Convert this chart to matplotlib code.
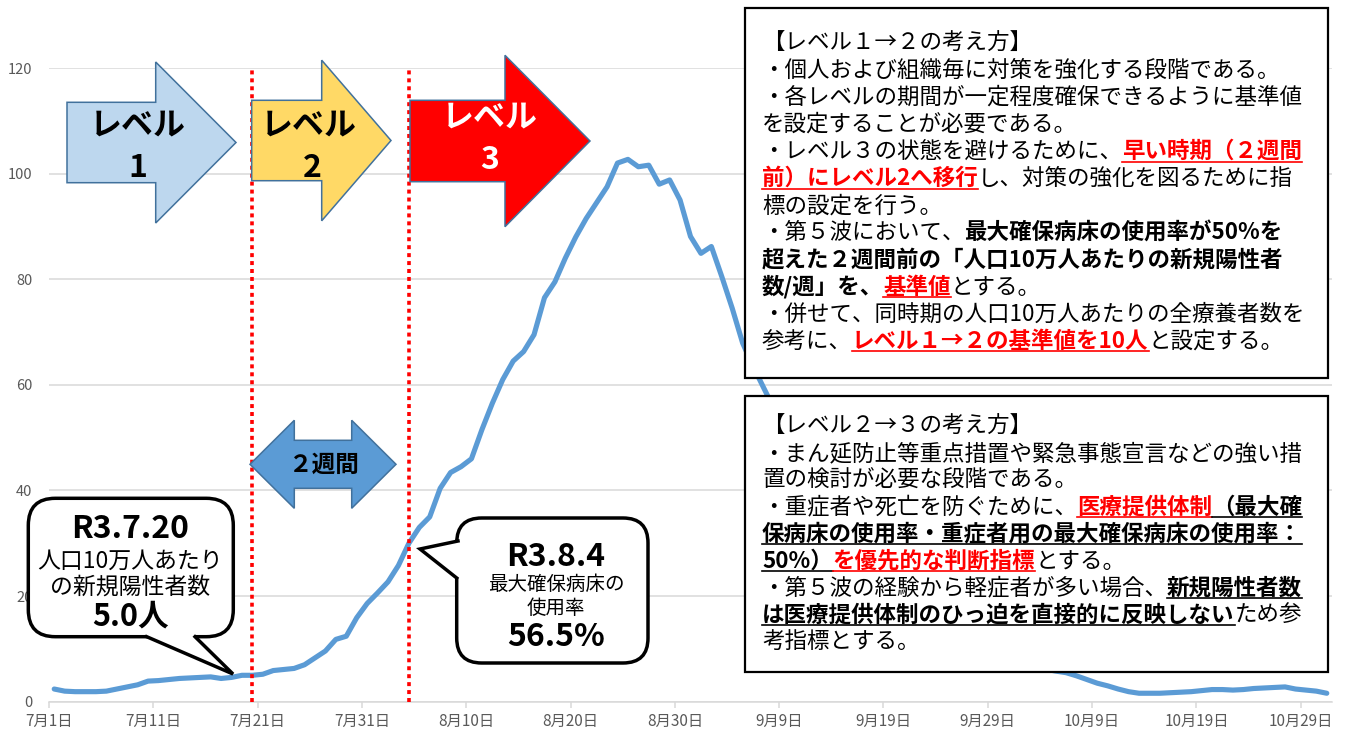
import numpy as np
import pandas as pd
import matplotlib
matplotlib.use("Agg")
import matplotlib.pyplot as plt
from matplotlib.patches import Polygon, FancyBboxPatch, Rectangle
from matplotlib.lines import Line2D
from matplotlib.transforms import Affine2D

plt.rcParams['font.family'] = ['Noto Sans CJK JP', 'DejaVu Sans']

# New positives per 100k people (weekly), 7/1 - 10/31
dates = pd.date_range('2021-07-01', '2021-10-31', freq='D')
new_cases = [
    2.4, 2.0, 1.9, 1.9, 1.9, 2.0, 2.4, 2.8, 3.2, 3.9,
    4.0, 4.2, 4.4, 4.5, 4.6, 4.7, 4.4, 4.6, 5.0, 5.0,
    5.2, 5.9, 6.1, 6.3, 7.0, 8.3, 9.6, 11.8, 12.4, 15.9,
    18.6, 20.6, 22.7, 25.8, 30.0, 33.0, 35.0, 40.4, 43.4, 44.5,
    46.0, 51.5, 56.5, 61.0, 64.5, 66.3, 69.5, 76.5, 79.5, 84.0,
    88.0, 91.5, 94.5, 97.5, 102.0, 102.7, 101.3, 101.6, 98.0, 98.8,
    95.0, 88.1, 84.9, 86.2, 80.5, 74.5, 67.9, 63.5, 59.5, 55.5,
    51.5, 48.0, 44.5, 41.0, 38.0, 35.0, 32.0, 29.5, 27.0, 24.5,
    22.5, 20.5, 18.8, 17.2, 15.8, 14.4, 13.2, 12.0, 11.0, 10.0,
    9.2, 8.4, 7.7, 7.1, 6.6, 6.2, 5.8, 5.5, 4.9, 4.2,
    3.5, 3.0, 2.4, 1.9, 1.6, 1.6, 1.6, 1.7, 1.8, 1.9,
    2.1, 2.3, 2.3, 2.2, 2.3, 2.5, 2.6, 2.7, 2.8, 2.4,
    2.2, 2.0, 1.6,
]
level_dates = ['2021-07-20', '2021-08-04']
y_ticks = [0, 20, 40, 60, 80, 100, 120]

W, H = 1352, 733
fig = plt.figure(figsize=(W / 100, H / 100), dpi=100)
ax = fig.add_axes([49 / W, 1 - 701.7 / H, (1332 - 49) / W, (701.7 - 68) / H])

# one slot per day, point in the middle of the slot
x = np.arange(len(dates)) + 0.5
ax.plot(x, new_cases, color='#5b9bd5', lw=3.7, solid_capstyle='round',
        solid_joinstyle='round', zorder=3)

for d in level_dates:
    i = dates.get_loc(pd.Timestamp(d))
    ax.axvline(i + 0.5, color='#ff0000', lw=2.6, ls=(0, (1.1, 1.1)), zorder=4)

ax.set_xlim(0, len(dates))
ax.set_ylim(0, 120)
ax.set_yticks(y_ticks)
tick_pos = np.arange(0, len(dates), 10)
ax.set_xticks(tick_pos)
ax.set_xticklabels([f"{dates[i].month}月{dates[i].day}日" for i in tick_pos])
ax.yaxis.grid(True, color='#d9d9d9', lw=1.1)
ax.set_axisbelow(True)
for s in ['top', 'right', 'left']:
    ax.spines[s].set_visible(False)
ax.spines['bottom'].set_color('#d9d9d9')
ax.spines['bottom'].set_linewidth(1.1)
ax.tick_params(axis='y', length=0, pad=12, labelsize=10.5, labelcolor='#595959')
ax.tick_params(axis='x', length=4, color='#d9d9d9', width=1.1, pad=4,
               labelsize=11, labelcolor='#595959')

# helper: pixel coords, origin top-left
pix = Affine2D().scale(1, -1).translate(0, H)


def add(artist):
    artist.set_transform(pix)
    fig.add_artist(artist)
    return artist


def ptext(x, y, s, **kw):
    return fig.text(x / W, 1 - y / H, s, **kw)


# level arrows
def right_arrow(x0, xn, xt, ym, bh, hh, fc):
    pts = [(x0, ym - bh), (xn, ym - bh), (xn, ym - hh), (xt, ym),
           (xn, ym + hh), (xn, ym + bh), (x0, ym + bh)]
    add(Polygon(pts, closed=True, fc=fc, ec='#41719c', lw=1.1, zorder=5))


right_arrow(67, 155.7, 236, 142.5, 40.2, 80.5, '#bdd7ee')
right_arrow(251.7, 321.7, 391, 140.5, 40.2, 80.3, '#ffd966')
right_arrow(410, 505, 590, 141, 40.7, 85.7, '#ff0000')

ptext(138, 125, 'レベル', ha='center', va='center', fontsize=23, fontweight='bold', zorder=6)
ptext(138, 168, '1', ha='center', va='center', fontsize=23, fontweight='bold', zorder=6)
ptext(309, 125, 'レベル', ha='center', va='center', fontsize=23, fontweight='bold', zorder=6)
ptext(312, 168, '2', ha='center', va='center', fontsize=23, fontweight='bold', zorder=6)
ptext(490, 117, 'レベル', ha='center', va='center', fontsize=23, fontweight='bold',
      color='white', zorder=6)
ptext(490, 160, '3', ha='center', va='center', fontsize=23, fontweight='bold',
      color='white', zorder=6)

# two-week double arrow
ym, bh, hh = 464.3, 24, 44
pts = [(250, ym), (294.3, ym - hh), (294.3, ym - bh), (351.7, ym - bh), (351.7, ym - hh),
       (396, ym), (351.7, ym + hh), (351.7, ym + bh), (294.3, ym + bh), (294.3, ym + hh)]
add(Polygon(pts, closed=True, fc='#5b9bd5', ec='#41719c', lw=1.1, zorder=5))
ptext(324, 465, '２週間', ha='center', va='center', fontsize=17, fontweight='bold', zorder=6)


# callouts
def callout(x0, y0, x1, y1, r, base1, base2, tip, inward):
    add(FancyBboxPatch((x0, y0), x1 - x0, y1 - y0,
                       boxstyle=f'round,pad=0,rounding_size={r}',
                       fc='white', ec='black', lw=2.5, zorder=7))
    b1i = (base1[0] + inward[0], base1[1] + inward[1])
    b2i = (base2[0] + inward[0], base2[1] + inward[1])
    add(Polygon([b1i, base1, tip, base2, b2i], closed=True, fc='white', ec='none', zorder=7.5))
    add(Line2D([base1[0], tip[0], base2[0]], [base1[1], tip[1], base2[1]],
               color='black', lw=2.5, solid_joinstyle='miter', zorder=7.6))


callout(28.3, 498.3, 233.3, 636.7, 27, (146.7, 636.7), (195, 636.7), (233, 674), (0, -5))
ptext(130, 529, 'R3.7.20', ha='center', va='center', fontsize=23, fontweight='bold', zorder=8)
ptext(130, 561, '人口10万人あたり', ha='center', va='center', fontsize=16.5, zorder=8)
ptext(130, 587, 'の新規陽性者数', ha='center', va='center', fontsize=16.5, zorder=8)
ptext(130, 617, '5.0人', ha='center', va='center', fontsize=22, fontweight='bold', zorder=8)

callout(456.7, 518, 648, 663, 25, (458, 541), (456.7, 578), (420, 549), (5, 0))
ptext(556, 557, 'R3.8.4', ha='center', va='center', fontsize=23, fontweight='bold', zorder=8)
ptext(556, 585, '最大確保病床の', ha='center', va='center', fontsize=14, zorder=8)
ptext(556, 609, '使用率', ha='center', va='center', fontsize=14, zorder=8)
ptext(556, 637, '56.5%', ha='center', va='center', fontsize=23, fontweight='bold', zorder=8)

# explanation boxes
add(Rectangle((745, 8), 583, 370, fc='white', ec='black', lw=1.6, zorder=9))
add(Rectangle((745, 396), 583, 276, fc='white', ec='black', lw=1.6, zorder=9))

box1 = [
    [("【レベル１→２の考え方】", 'n')],
    [("・個人および組織毎に対策を強化する段階である。", 'n')],
    [("・各レベルの期間が一定程度確保できるように基準値", 'n')],
    [("を設定することが必要である。", 'n')],
    [("・レベル３の状態を避けるために、", 'n'), ("早い時期（２週間", 'r')],
    [("前）にレベル2へ移行", 'r'), ("し、対策の強化を図るために指", 'n')],
    [("標の設定を行う。", 'n')],
    [("・第５波において、", 'n'), ("最大確保病床の使用率が50%を", 'b')],
    [("超えた２週間前の「人口10万人あたりの新規陽性者", 'b')],
    [("数/週」を、", 'b'), ("基準値", 'r'), ("とする。", 'n')],
    [("・併せて、同時期の人口10万人あたりの全療養者数を", 'n')],
    [("参考に、", 'n'), ("レベル１→２の基準値を10人", 'r'), ("と設定する。", 'n')],
]
box2 = [
    [("【レベル２→３の考え方】", 'n')],
    [("・まん延防止等重点措置や緊急事態宣言などの強い措", 'n')],
    [("置の検討が必要な段階である。", 'n')],
    [("・重症者や死亡を防ぐために、", 'n'), ("医療提供体制", 'r'), ("（最大確", 'u')],
    [("保病床の使用率・重症者用の最大確保病床の使用率：", 'u')],
    [("50%）", 'u'), ("を優先的な判断指標", 'r'), ("とする。", 'n')],
    [("・第５波の経験から軽症者が多い場合、", 'n'), ("新規陽性者数", 'u')],
    [("は医療提供体制のひっ迫を直接的に反映しない", 'u'), ("ため参", 'n')],
    [("考指標とする。", 'n')],
]

styles = {
    'n': dict(color='black', weight='normal', under=False),
    'b': dict(color='black', weight='bold', under=False),
    'r': dict(color='#ff0000', weight='bold', under=True),
    'u': dict(color='black', weight='bold', under=True),
}

renderer = fig.canvas.get_renderer()
fs_box = 16.2


def draw_box(lines, x0, yc0, step):
    for k, runs in enumerate(lines):
        base = yc0 + k * step + 8
        xc = x0
        for s, st in runs:
            sty = styles[st]
            t = ptext(xc, base, s, ha='left', va='baseline', fontsize=fs_box,
                      fontweight=sty['weight'], color=sty['color'], zorder=10)
            bb = t.get_window_extent(renderer=renderer)
            if sty['under']:
                add(Line2D([bb.x0, bb.x1], [base + 3.5, base + 3.5],
                           color=sty['color'], lw=1.2, zorder=10))
            xc = bb.x1


draw_box(box1, 762, 41.7, 27.1)
draw_box(box2, 762, 425, 26.9)

fig.savefig('out.png', dpi=100)
